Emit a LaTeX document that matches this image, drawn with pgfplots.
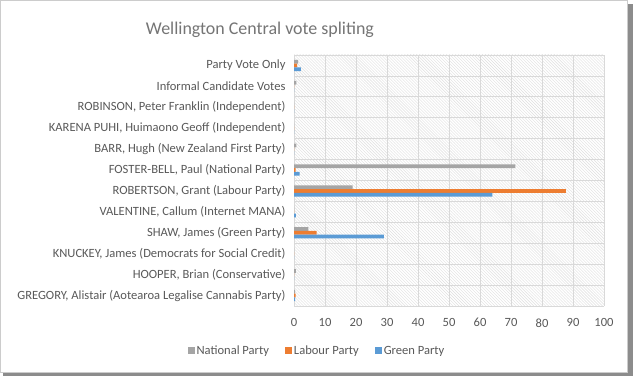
\documentclass[border=0pt]{standalone}
\usepackage{pgfplots}
\pgfplotsset{compat=1.18}
\usepackage{fontspec}
\setmainfont{Carlito}
\usetikzlibrary{patterns}
\definecolor{natc}{HTML}{A5A5A5}
\definecolor{labc}{HTML}{ED7D31}
\definecolor{grnc}{HTML}{5B9BD5}
\definecolor{gridc}{HTML}{D9D9D9}
\definecolor{txtc}{HTML}{595959}
\definecolor{titc}{HTML}{757575}
\begin{document}
\begin{tikzpicture}
\fill[white] (0bp,0bp) rectangle (633bp,376bp);
\fill[black!45] (627bp,0bp) rectangle (633bp,372bp);
\fill[black!45] (3bp,0bp) rectangle (633bp,4bp);
\draw[black!20, line width=0.8bp] (0.4bp,4bp) rectangle (627bp,375.6bp);
\node[font=\fontsize{18}{21}\selectfont, text=titc] at (260bp,346bp) {Wellington Central vote spliting};
\begin{axis}[
  at={(294bp,70bp)}, anchor=south west,
  scale only axis, width=310bp, height=251bp,
  xbar, bar width=3.7bp,
  xmin=0, xmax=100, ymin=-0.5, ymax=11.5,
  xtick={0,10,...,100},
  ytick={0,...,11},
  yticklabels={
    {GREGORY, Alistair (Aotearoa Legalise Cannabis Party)},
    {HOOPER, Brian (Conservative)},
    {KNUCKEY, James (Democrats for Social Credit)},
    {SHAW, James (Green Party)},
    {VALENTINE, Callum (Internet MANA)},
    {ROBERTSON, Grant (Labour Party)},
    {FOSTER-BELL, Paul (National Party)},
    {BARR, Hugh (New Zealand First Party)},
    {KARENA PUHI, Huimaono Geoff (Independent)},
    {ROBINSON, Peter Franklin (Independent)},
    {Informal Candidate Votes},
    {Party Vote Only}},
  minor ytick={-0.5,0.5,...,11.5},
  xmajorgrids, yminorgrids,
  grid style={gridc, line width=0.8bp},
  minor grid style={gridc, line width=0.8bp},
  axis line style={draw=none},
  major tick length=0pt, minor tick length=0pt,
  tick label style={font=\fontsize{12.6}{14}\selectfont, text=txtc},
  /pgf/number format/assume math mode=true,
  xticklabel style={yshift=-9bp},
  yticklabel style={xshift=-5bp},
  axis background/.style={pattern=north west lines, pattern color=gridc!85},
  legend style={at={(0.074,-0.179)}, anchor=center, draw=none, fill=none,
    legend columns=3, font=\fontsize{12.6}{14}\selectfont, text=txtc,
    /tikz/every even column/.append style={column sep=14bp}},
  legend image code/.code={\fill[#1] (0bp,-3bp) rectangle (7bp,4bp);},
]
\addplot[fill=natc, draw=none, bar shift=3.7bp] coordinates {
 (0.4,0) (0.6,1) (0,2) (4.6,3) (0,4) (18.9,5) (71.4,6) (0.8,7) (0,8) (0,9) (0.8,10) (1.3,11)};
\addlegendentry{National Party}
\addplot[fill=labc, draw=none, bar shift=0bp] coordinates {
 (0.5,0) (0,1) (0,2) (7.3,3) (0,4) (87.7,5) (0.5,6) (0,7) (0,8) (0,9) (0,10) (1.0,11)};
\addlegendentry{Labour Party}
\addplot[fill=grnc, draw=none, bar shift=-3.7bp] coordinates {
 (0.4,0) (0,1) (0,2) (29.0,3) (0.6,4) (64.0,5) (1.8,6) (0,7) (0,8) (0,9) (0,10) (2.2,11)};
\addlegendentry{Green Party}
\end{axis}
\end{tikzpicture}
\end{document}
